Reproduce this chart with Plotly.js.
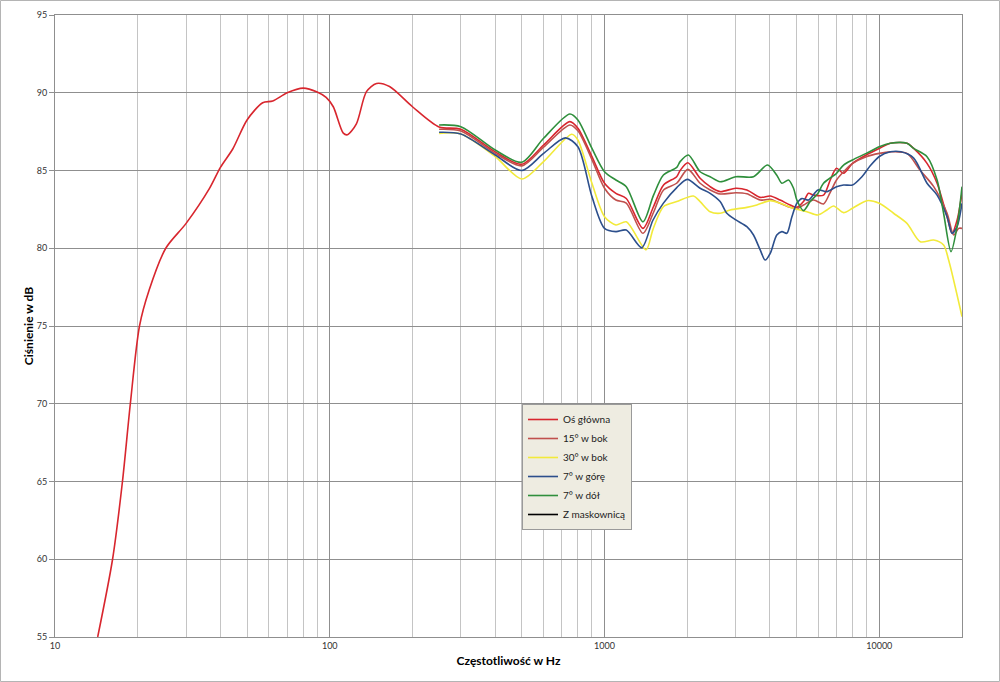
<!DOCTYPE html>
<html>
<head>
<meta charset="utf-8">
<script src="https://cdn.plot.ly/plotly-3.0.1.min.js"></script>
<style>
html,body{margin:0;padding:0;background:#fff;}
#chart{width:1000px;height:682px;}
</style>
</head>
<body>
<div id="chart"></div>
<script>
// ---- Data ----
const seriesNames = ["Oś główna", "15° w bok", "30° w bok", "7° w górę", "7° w dół", "Z maskownicą"];

const mainFreq = [14.3, 16.2, 17.6, 18.8, 20.3, 22, 25.3, 30, 36.5, 40, 44.4, 50, 57, 62, 70, 80, 90, 97, 103, 112, 116, 125, 136, 148, 165, 200, 250,
  300, 400, 500, 600, 748, 800, 900, 1000, 1100, 1200, 1380, 1507, 1640, 1830, 1884, 2010, 2228, 2423, 2635, 3000, 3296, 3686, 4009, 4355, 4740, 5012, 5298, 5525, 5764, 6266, 6630, 6988, 7413, 7992, 8966, 10000, 10965, 12610, 13340, 14920, 16230, 17650, 18400, 19190, 20000];
const mainDb = [55, 60, 65, 70, 75, 77.3, 80, 81.6, 83.85, 85.2, 86.4, 88.25, 89.36, 89.47, 90.0, 90.3, 90.05, 89.7, 89.1, 87.4, 87.3, 88.0, 90.07, 90.6, 90.4, 89.1, 87.8,
  87.65, 86.2, 85.4, 86.64, 88.14, 87.71, 85.89, 84.18, 83.53, 83.2, 81.28, 82.67, 84.07, 84.6, 85.0, 85.5, 84.5, 83.96, 83.64, 83.86, 83.75, 83.27, 83.36, 83.1, 82.78, 82.63, 83.0, 83.53, 83.42, 83.42, 84.39, 85.14, 84.82, 85.46, 86.0, 86.42, 86.75, 86.75, 86.42, 85.46, 84.18, 82.03, 80.96, 81.8, 83.53];

const side15Freq = [250, 300, 400, 500, 600, 748, 800, 900, 1000, 1100, 1200, 1380, 1507, 1640, 1830, 2010, 2228, 2423, 2635, 3006, 3296, 3686, 4009, 4355, 4740, 5012, 5298, 5764, 6266, 6630, 6988, 7413, 7992, 8966, 10000, 10965, 12610, 14100, 15780, 17650, 18660, 19460, 20000];
const side15Db = [87.65, 87.54, 86.1, 85.3, 86.5, 87.93, 87.55, 85.7, 83.86, 83.1, 82.9, 80.96, 82.3, 83.75, 84.18, 85.07, 84.18, 83.75, 83.49, 83.57, 83.5, 83.1, 83.15, 82.89, 82.63, 82.55, 82.78, 83.1, 82.85, 83.6, 84.39, 84.92, 85.46, 85.89, 86.1, 86.2, 86.1, 85.0, 83.96, 82.25, 80.85, 81.28, 81.28];

const side30Freq = [250, 300, 400, 500, 600, 760, 800, 900, 1000, 1100, 1200, 1416, 1500, 1638, 1832, 2106, 2228, 2423, 2635, 2866, 3296, 3584, 4009, 4355, 4873, 5451, 5980, 6447, 6817, 7413, 7992, 9016, 10000, 11270, 12610, 14100, 15780, 17140, 17880, 20000];
const side30Db = [87.39, 87.35, 85.9, 84.45, 85.57, 87.33, 86.96, 84.18, 82.03, 81.5, 81.7, 79.9, 81.2, 82.67, 83.0, 83.36, 83.0, 82.35, 82.25, 82.46, 82.63, 82.78, 83.06, 82.89, 82.57, 82.35, 82.14, 82.46, 82.72, 82.29, 82.57, 83.06, 82.89, 82.25, 81.6, 80.42, 80.53, 80.21, 79.24, 75.6];

const upFreq = [250, 300, 400, 500, 600, 720, 800, 900, 1000, 1100, 1200, 1366, 1500, 1638, 1832, 2000, 2228, 2423, 2635, 2787, 3006, 3296, 3485, 3686, 3843, 4009, 4236, 4421, 4609, 4808, 5012, 5228, 5525, 5980, 6447, 6988, 7413, 7992, 8650, 9270, 10000, 10965, 12000, 13340, 14920, 16230, 17650, 18400, 19190, 20000];
const upDb = [87.46, 87.35, 86.0, 85.0, 86.1, 87.1, 86.53, 83.32, 81.28, 81.07, 81.17, 80.04, 81.8, 82.9, 83.9, 84.43, 83.86, 83.53, 83.0, 82.25, 81.82, 81.39, 80.85, 79.89, 79.24, 79.67, 80.85, 81.07, 80.96, 82.03, 82.89, 83.2, 83.1, 83.75, 83.64, 83.96, 84.07, 84.07, 84.6, 85.3, 85.9, 86.2, 86.2, 85.8, 84.18, 83.42, 82.03, 80.96, 81.39, 82.89];

const downFreq = [250, 300, 400, 500, 600, 748, 800, 900, 1000, 1100, 1200, 1380, 1507, 1638, 1832, 1884, 2019, 2228, 2423, 2635, 3006, 3485, 3917, 4236, 4421, 4672, 4873, 5012, 5298, 5605, 5980, 6266, 6988, 7413, 7992, 8966, 10000, 10965, 12610, 13340, 14920, 16230, 17140, 18240, 19190, 20000];
const downDb = [87.93, 87.82, 86.32, 85.53, 87.07, 88.63, 88.25, 86.42, 84.92, 84.39, 83.96, 81.7, 83.4, 84.71, 85.2, 85.57, 86.0, 84.92, 84.6, 84.28, 84.6, 84.6, 85.35, 84.7, 84.18, 84.39, 83.86, 83.1, 82.42, 83.0, 83.53, 84.18, 84.82, 85.35, 85.68, 86.1, 86.53, 86.75, 86.75, 86.42, 85.89, 84.39, 82.25, 79.78, 81.39, 83.96];

// "Z maskownicą" appears only in the legend (no visible curve in the reference)
const maskFreq = [null];
const maskDb = [null];

const seriesFreq = [mainFreq, side15Freq, side30Freq, upFreq, downFreq, maskFreq];
const seriesDb = [mainDb, side15Db, side30Db, upDb, downDb, maskDb];
const seriesColors = ["#d8262e", "#c0504d", "#f2ea3a", "#2c4f8c", "#2f8f3c", "#000000"];

const majorTicks = [10, 100, 1000, 10000];
const majorLabels = ["10", "100", "1000", "10000"];
const minorDigits = [2, 3, 4, 5, 6, 7, 8, 9];

// ---- Build ----
const minorTicks = [];
majorTicks.forEach(d => minorDigits.forEach(k => { if (d * k <= 20000) minorTicks.push(d * k); }));

const FONT = 'Lato, "Open Sans", "Liberation Sans", sans-serif';

const traces = seriesNames.map((n, i) => ({
  type: 'scatter',
  mode: 'lines',
  name: n,
  x: seriesFreq[i],
  y: seriesDb[i],
  line: {color: seriesColors[i], width: 1.6, shape: 'spline', smoothing: 0.8},
  hoverinfo: 'skip'
}));

const L = 55, R = 38, T = 15, B = 45, W = 1000, H = 682;
const pw = W - L - R, ph = H - T - B;

const layout = {
  width: W, height: H,
  margin: {l: L, r: R, t: T, b: B, pad: 0},
  paper_bgcolor: '#ffffff',
  plot_bgcolor: '#ffffff',
  font: {family: FONT, size: 10, color: '#333'},
  showlegend: true,
  legend: {
    x: (522 - L) / pw, y: (637 - 404) / ph, xanchor: 'left', yanchor: 'top',
    bgcolor: '#eeece1', bordercolor: '#9a9a9a', borderwidth: 1,
    font: {family: FONT, size: 10, color: '#222'},
    itemwidth: 30, tracegroupgap: 0
  },
  xaxis: {
    type: 'log',
    range: [1, Math.log10(20000)],
    tickmode: 'array', tickvals: majorTicks, ticktext: majorLabels,
    showgrid: true, gridcolor: '#8f8f8f', gridwidth: 1,
    minor: {tickmode: 'array', tickvals: minorTicks, showgrid: true, gridcolor: '#c4c4c4', gridwidth: 1, ticks: ''},
    showline: true, linecolor: '#8f8f8f', linewidth: 1, mirror: true,
    ticks: '', tickfont: {size: 9, color: '#333'},
    zeroline: false, automargin: false,
    title: {text: 'Częstotliwość w Hz', font: {family: FONT, size: 12, color: '#000', weight: 'bold'}, standoff: 6}
  },
  yaxis: {
    range: [55, 95], dtick: 5, tick0: 55,
    showgrid: true, gridcolor: '#8f8f8f', gridwidth: 1,
    showline: true, linecolor: '#8f8f8f', linewidth: 1, mirror: true,
    ticks: 'outside', ticklen: 5, tickcolor: '#8f8f8f',
    tickfont: {size: 9, color: '#333'},
    zeroline: false, automargin: false,
    title: {text: 'Ciśnienie w dB', font: {family: FONT, size: 12, color: '#000', weight: 'bold'}, standoff: 0}
  },
  shapes: [{
    type: 'rect', xref: 'paper', yref: 'paper', layer: 'below',
    x0: (0.5 - L) / pw, x1: (W - 0.5 - L) / pw,
    y0: -(B - 0.5) / ph, y1: (ph + T - 0.5) / ph,
    line: {color: '#b4b4b4', width: 1}, fillcolor: 'rgba(0,0,0,0)'
  }]
};

Plotly.newPlot('chart', traces, layout, {displayModeBar: false, staticPlot: true});
</script>
</body>
</html>
